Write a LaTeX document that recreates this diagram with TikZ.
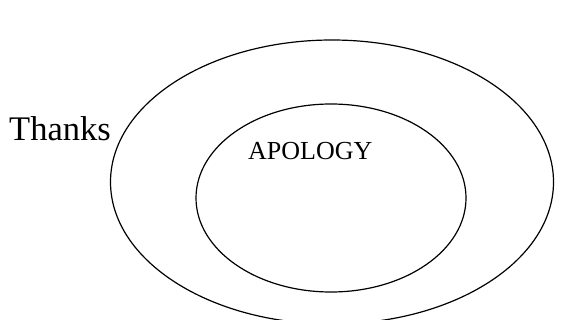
\documentclass[tikz,border=0pt]{standalone}
\usepackage{fontspec}
\setmainfont{Liberation Serif}
\usetikzlibrary{shapes.geometric}
\tikzstyle{ring}=[draw, shape=ellipse, line width=1.2pt, inner sep=0pt]
\tikzstyle{word}=[inner sep=0pt, anchor=base west]

\begin{document}
\begin{tikzpicture}[x=1pt, y=-1pt]
	\clip (0,0) rectangle (569,320);

	\node[ring, minimum width=443pt, minimum height=284pt] (outer) at (332,182) {};
	\node[ring, minimum width=270pt, minimum height=188pt] (inner) at (331,198) {};

	\node[word, font=\fontsize{34.5}{40}\selectfont] (thanks) at (9,141) {Thanks};
	\node[word, font=\fontsize{26}{30}\selectfont] (apology) at (248,160) {APOLOGY};

\end{tikzpicture}
\end{document}
